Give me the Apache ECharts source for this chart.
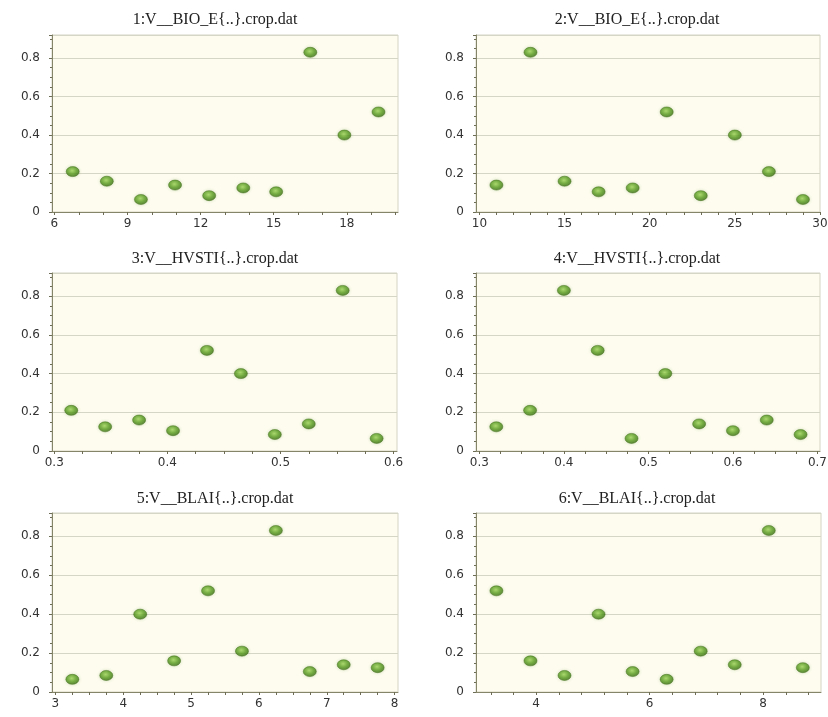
<!DOCTYPE html>
<html>
<head>
<meta charset="utf-8">
<script src="https://cdn.jsdelivr.net/npm/echarts@6/dist/echarts.min.js"></script>
<style>html,body{margin:0;padding:0;background:#fff;}#c{width:828px;height:717px;}</style>
</head>
<body>
<div id="c"></div>
<script>
// ---- data ----
var titles = ['1:V__BIO_E{..}.crop.dat','2:V__BIO_E{..}.crop.dat','3:V__HVSTI{..}.crop.dat','4:V__HVSTI{..}.crop.dat','5:V__BLAI{..}.crop.dat','6:V__BLAI{..}.crop.dat'];
var p1X = [6.75, 8.15, 9.55, 10.95, 12.35, 13.75, 15.1, 16.5, 17.9, 19.3];
var p1Y = [0.21, 0.16, 0.065, 0.14, 0.085, 0.125, 0.105, 0.83, 0.40, 0.52];
var p2X = [11, 13, 15, 17, 19, 21, 23, 25, 27, 29];
var p2Y = [0.14, 0.83, 0.16, 0.105, 0.125, 0.52, 0.085, 0.40, 0.21, 0.065];
var p3X = [0.315, 0.345, 0.375, 0.405, 0.435, 0.465, 0.495, 0.525, 0.555, 0.585];
var p3Y = [0.21, 0.125, 0.16, 0.105, 0.52, 0.40, 0.085, 0.14, 0.83, 0.065];
var p4X = [0.32, 0.36, 0.40, 0.44, 0.48, 0.52, 0.56, 0.60, 0.64, 0.68];
var p4Y = [0.125, 0.21, 0.83, 0.52, 0.065, 0.40, 0.14, 0.105, 0.16, 0.085];
var p5X = [3.25, 3.75, 4.25, 4.75, 5.25, 5.75, 6.25, 6.75, 7.25, 7.75];
var p5Y = [0.065, 0.085, 0.40, 0.16, 0.52, 0.21, 0.83, 0.105, 0.14, 0.125];
var p6X = [3.3, 3.9, 4.5, 5.1, 5.7, 6.3, 6.9, 7.5, 8.1, 8.7];
var p6Y = [0.52, 0.16, 0.085, 0.40, 0.105, 0.065, 0.21, 0.14, 0.83, 0.125];

// tick labels
var yLabels = [0, 0.2, 0.4, 0.6, 0.8];
var x1Labels = [6, 9, 12, 15, 18];
var x1Ticks = [6, 7, 8, 9, 10, 11, 12, 13, 14, 15, 16, 17, 18, 19, 20];
var x2Labels = [10, 15, 20, 25, 30];
var x2Ticks = [10, 11, 12, 13, 14, 15, 16, 17, 18, 19, 20, 21, 22, 23, 24, 25, 26, 27, 28, 29, 30];
var x3Labels = [0.3, 0.4, 0.5, 0.6];
var x3Ticks = [0.3, 0.325, 0.35, 0.375, 0.4, 0.425, 0.45, 0.475, 0.5, 0.525, 0.55, 0.575, 0.6];
var x4Labels = [0.3, 0.4, 0.5, 0.6, 0.7];
var x4Ticks = [0.3, 0.325, 0.35, 0.375, 0.4, 0.425, 0.45, 0.475, 0.5, 0.525, 0.55, 0.575, 0.6, 0.625, 0.65, 0.675, 0.7];
var x5Labels = [3, 4, 5, 6, 7, 8];
var x5Ticks = [3, 3.25, 3.5, 3.75, 4, 4.25, 4.5, 4.75, 5, 5.25, 5.5, 5.75, 6, 6.25, 6.5, 6.75, 7, 7.25, 7.5, 7.75, 8];
var x6Labels = [4, 6, 8];
var x6Ticks = [3.2, 3.6, 4, 4.4, 4.8, 5.2, 5.6, 6, 6.4, 6.8, 7.2, 7.6, 8, 8.4, 8.8];
var xRanges = [[5.9, 20.1], [9.8, 30], [0.298, 0.603], [0.296, 0.703], [2.95, 8.05], [2.94, 9.02]];

var xs = [p1X, p2X, p3X, p4X, p5X, p6X];
var ys = [p1Y, p2Y, p3Y, p4Y, p5Y, p6Y];
var xLabs = [x1Labels, x2Labels, x3Labels, x4Labels, x5Labels, x6Labels];
var xTks = [x1Ticks, x2Ticks, x3Ticks, x4Ticks, x5Ticks, x6Ticks];

// layout
var grids = [
  {left: 52, top: 35, width: 346, height: 177},
  {left: 476, top: 35, width: 344, height: 177},
  {left: 52, top: 273, width: 345, height: 178},
  {left: 476, top: 273, width: 344, height: 178},
  {left: 52, top: 513, width: 346, height: 179},
  {left: 476, top: 513, width: 345, height: 179}
];
var titlePos = [[210, 7], [632, 7], [210, 246], [632, 246], [210, 486], [632, 486]];

var axisColor = '#85856a';
var option = {
  backgroundColor: '#ffffff',
  animation: false,
  title: [], grid: [], xAxis: [], yAxis: [], series: []
};
for (var i = 0; i < 6; i++) {
  option.title.push({
    text: titles[i], left: titlePos[i][0], top: titlePos[i][1], textAlign: 'center',
    textStyle: {fontFamily: 'Liberation Serif', fontSize: 16, fontWeight: 'normal', color: '#222'}
  });
  option.grid.push(Object.assign({
    show: true, backgroundColor: '#fdfcee', borderColor: '#d4d4c4', borderWidth: 1,
    containLabel: false, outerBoundsMode: 'none'
  }, grids[i]));
  var pts = [];
  for (var j = 0; j < xs[i].length; j++) pts.push([xs[i][j], ys[i][j]]);
  option.xAxis.push({
    type: 'value', gridIndex: i, min: xRanges[i][0], max: xRanges[i][1],
    axisLine: {show: true, onZero: false, lineStyle: {color: axisColor, width: 1}},
    axisTick: {show: true, customValues: xTks[i], length: 3, lineStyle: {color: '#6d6d55'}},
    axisLabel: {customValues: xLabs[i], margin: 6, color: '#333', fontFamily: 'DejaVu Sans', fontSize: 12},
    splitLine: {show: false}
  });
  option.yAxis.push({
    type: 'value', gridIndex: i, min: 0, max: 0.92, interval: 0.2,
    axisLine: {show: true, onZero: false, lineStyle: {color: axisColor, width: 1}},
    axisTick: {show: true, length: 3, lineStyle: {color: '#6d6d55'}},
    minorTick: {show: true, splitNumber: 4, length: 2, lineStyle: {color: '#6d6d55'}},
    axisLabel: {customValues: yLabels, margin: 12, color: '#333', fontFamily: 'DejaVu Sans', fontSize: 12},
    splitLine: {show: true, lineStyle: {color: '#d6d6c6', width: 1}}
  });
  option.series.push({
    type: 'scatter', xAxisIndex: i, yAxisIndex: i, data: pts,
    symbol: 'circle', symbolSize: [13, 10],
    itemStyle: {
      color: {type: 'radial', x: 0.45, y: 0.4, r: 0.6, colorStops: [
        {offset: 0, color: '#9fd65a'}, {offset: 0.55, color: '#5b9e22'}, {offset: 1, color: '#386b12'}]},
      borderColor: '#3e6e17', borderWidth: 0.6,
      shadowBlur: 3, shadowColor: 'rgba(110,150,70,0.35)'
    }
  });
}
var chart = echarts.init(document.getElementById('c'), null, {renderer: 'canvas'});
chart.setOption(option);
</script>
</body>
</html>
